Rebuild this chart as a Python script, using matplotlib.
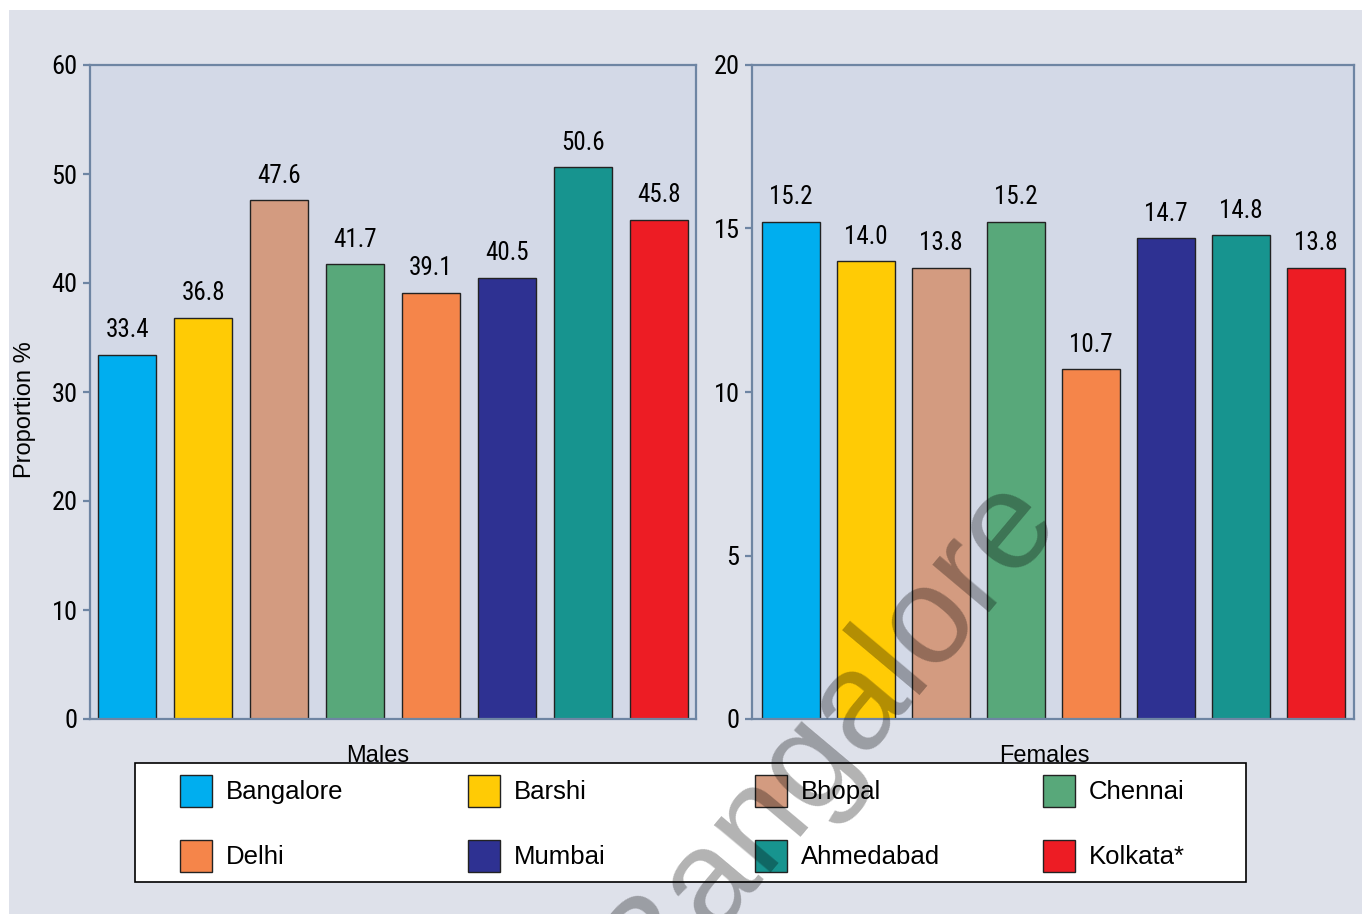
"""
Proportion (%) by city for males and females, drawn as two bar panels
with a shared four-column legend below.
"""

import matplotlib.patches as mpatches
import matplotlib.pyplot as plt
import numpy as np

# ── Data ──────────────────────────────────────────────────────────────────────
CITIES = ["Bangalore", "Barshi", "Bhopal", "Chennai",
          "Delhi", "Mumbai", "Ahmedabad", "Kolkata*"]
MALES = [33.4, 36.8, 47.6, 41.7, 39.1, 40.5, 50.6, 45.8]
FEMALES = [15.2, 14.0, 13.8, 15.2, 10.7, 14.7, 14.8, 13.8]
MALE_TICKS = [0, 10, 20, 30, 40, 50, 60]
FEMALE_TICKS = [0, 5, 10, 15, 20]

# ── Visual constants ──────────────────────────────────────────────────────────
COLORS = ["#00aeef", "#ffcb05", "#d39b80", "#58a87a",
          "#f5854a", "#2e3192", "#17948f", "#ed1c24"]
FIG_BG = "#dee1ea"
AX_BG = "#d3d9e7"
SPINE = "#6e85a3"
NARROW = ["Liberation Sans Narrow", "Roboto Condensed", "DejaVu Sans"]
REGULAR = ["Liberation Sans", "DejaVu Sans"]

W, H = 1362, 914


def px(x, y):
    """Pixel position (from top-left) -> figure fraction."""
    return x / W, 1 - y / H


def draw_panel(ax, values, ticks, xlim, title, title_x):
    x = np.arange(len(values))
    ax.set_facecolor(AX_BG)
    ax.bar(x, values, width=0.77, color=COLORS, edgecolor="#222222",
           linewidth=1.0, zorder=2)
    for xi, v in zip(x, values):
        ax.annotate(f"{v:.1f}", (xi, v), xytext=(0, 9),
                    textcoords="offset points", ha="center", va="bottom",
                    fontsize=18, family=NARROW)
    ax.set_xlim(*xlim)
    ax.set_ylim(ticks[0], ticks[-1])
    ax.set_yticks(ticks)
    ax.set_xticks([])
    for s in ax.spines.values():
        s.set_color(SPINE)
        s.set_linewidth(1.6)
    ax.tick_params(axis="y", direction="out", length=5, width=1.6,
                   color=SPINE, labelsize=19, pad=4)
    for lab in ax.get_yticklabels():
        lab.set_family(NARROW)
    ax.text(title_x, -0.066, title, transform=ax.transAxes, ha="center",
            va="baseline", fontsize=17, family=REGULAR, zorder=5)


fig = plt.figure(figsize=(W / 100, H / 100), dpi=100, facecolor="white")
fig.patches.append(mpatches.Rectangle(px(9, 914), 1 - 9 / W, 1 - 10 / H,
                                      transform=fig.transFigure,
                                      facecolor=FIG_BG, edgecolor="none",
                                      zorder=-5))

x0, y0 = px(90, 719)
x1, y1 = px(696, 65)
ax_m = fig.add_axes([x0, y0, x1 - x0, y1 - y0])
x0, y0 = px(752, 719)
x1, y1 = px(1354, 65)
ax_f = fig.add_axes([x0, y0, x1 - x0, y1 - y0])

draw_panel(ax_m, MALES, MALE_TICKS, (-0.49, 7.49), "Males", 0.474)
draw_panel(ax_f, FEMALES, FEMALE_TICKS, (-0.52, 7.51), "Females", 0.485)

fig.text(*px(25, 410), "Proportion %", rotation=90, ha="center",
         va="center", fontsize=17, family=REGULAR)

# ── Legend: white box, four columns of two entries ────────────────────────────
bx, by = px(135, 882)
fig.patches.append(mpatches.Rectangle((bx, by), 1111 / W, 119 / H,
                                      transform=fig.transFigure,
                                      facecolor="white", edgecolor="black",
                                      linewidth=1.2, zorder=3))
handles = [mpatches.Patch(facecolor=c, edgecolor="#222222", linewidth=1.0,
                          label=name) for name, c in zip(CITIES, COLORS)]
col_x = [180, 468, 755, 1043]
for c, xpx in enumerate(col_x):
    leg = fig.legend(handles=[handles[c], handles[c + 4]],
                     loc="upper left", bbox_to_anchor=px(xpx, 775),
                     frameon=False, borderpad=0, borderaxespad=0,
                     handlelength=1.245, handleheight=1.54,
                     handletextpad=0.55, labelspacing=1.28,
                     prop={"family": REGULAR, "size": 18.5})
    leg.set_zorder(4)

# ── Watermark ─────────────────────────────────────────────────────────────────
fig.text(*px(828, 735), "Bangalore", rotation=50, rotation_mode="anchor",
         ha="center", va="center", fontsize=100, family=REGULAR,
         color="black", alpha=0.3, zorder=10)

fig.savefig("out.png", dpi=100, facecolor="white")
